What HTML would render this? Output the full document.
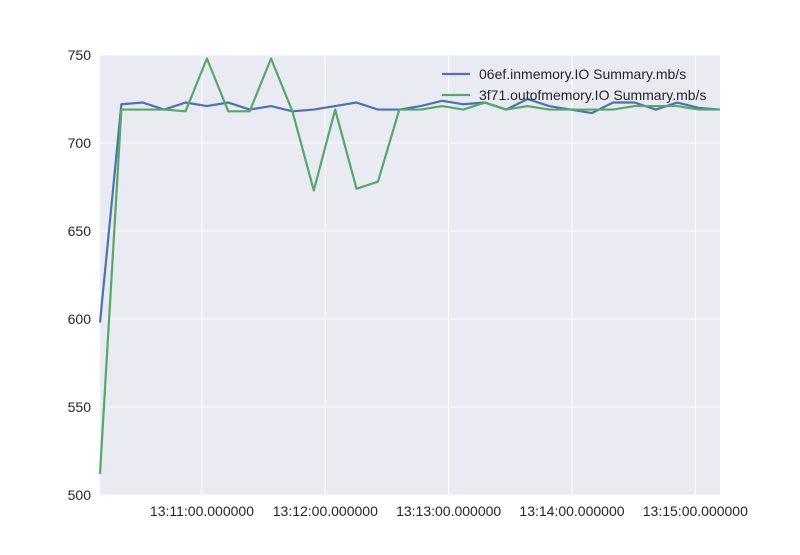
<!DOCTYPE html>
<html><head><meta charset="utf-8"><style>
body{margin:0;background:#fff;}
svg text{font-family:"Liberation Sans",sans-serif;font-size:14px;fill:#262626;}
</style></head><body>
<svg id="chart" width="800" height="550" xmlns="http://www.w3.org/2000/svg">
<rect x="100" y="55" width="620" height="440" fill="#eaeaf2"/>
<g id="grid"></g><g id="series"></g><g id="axes"></g>
<g>
<line x1="442" y1="74" x2="470" y2="74" stroke="#4c72b0" stroke-width="2.2"/>
<text x="479" y="79">06ef.inmemory.IO Summary.mb/s</text>
<line x1="442" y1="95" x2="470" y2="95" stroke="#55a868" stroke-width="2.2"/>
<text x="479" y="100">3f71.outofmemory.IO Summary.mb/s</text>
</g>
</svg>
<script>
// seconds since 13:10:00
const times=[10.4,20.8,31.2,41.6,52,62.4,72.8,83.2,93.6,104,114.4,124.8,135.2,145.6,156,166.4,176.8,187.2,197.6,208,218.4,228.8,239.2,249.6,260,270.4,280.8,291.2,301.6,312];
const inmemory=[598,722,723,719,723,721,723,719,721,718,719,721,723,719,719,721,724,722,723,719,725,721,719,717,723,723,719,723,720,719];
const outofmemory=[512,719,719,719,718,748,718,718,748,718,673,719,674,678,719,719,721,719,723,719,721,719,719,719,719,721,721,721,719,719];
const yTicks=[500,550,600,650,700,750];
const xTicks=[60,120,180,240,300];
const xTickLabels=["13:11:00.000000","13:12:00.000000","13:13:00.000000","13:14:00.000000","13:15:00.000000"];
const NS="http://www.w3.org/2000/svg";
const X0=100,X1=720,Y0=495,Y1=55,tMin=10.4,tMax=312;
const xs=t=>X0+(t-tMin)/(tMax-tMin)*(X1-X0);
const ys=v=>Y0-(v-500)/250*(Y0-Y1);
function mk(tag,attrs,parent){const e=document.createElementNS(NS,tag);for(const k in attrs)e.setAttribute(k,attrs[k]);parent.appendChild(e);return e;}
const grid=document.getElementById('grid'),axes=document.getElementById('axes'),ser=document.getElementById('series');
yTicks.forEach(v=>{
 const l=mk('line',{x1:X0,x2:X1,y1:ys(v),y2:ys(v),stroke:'#fff','stroke-width':1},grid);
 
 
 const t=mk('text',{x:X0-9,y:ys(v)+5,'text-anchor':'end'},axes);t.textContent=v;
 
 
});
xTicks.forEach((s,i)=>{
 const l=mk('line',{x1:xs(s),x2:xs(s),y1:Y1,y2:Y0,stroke:'#fff','stroke-width':1},grid);
 
 
 const t=mk('text',{x:xs(s),y:Y0+21,'text-anchor':'middle'},axes);t.textContent=xTickLabels[i];
 
 
});
[[inmemory,'#4c72b0','series-06ef-inmemory'],[outofmemory,'#55a868','series-3f71-outofmemory']].forEach(([d,c,n])=>{
 const p=mk('polyline',{points:d.map((v,i)=>xs(times[i])+','+ys(v)).join(' '),fill:'none',stroke:c,'stroke-width':2.2,'stroke-linejoin':'round'},ser);
 
 
});
</script>
</body></html>
